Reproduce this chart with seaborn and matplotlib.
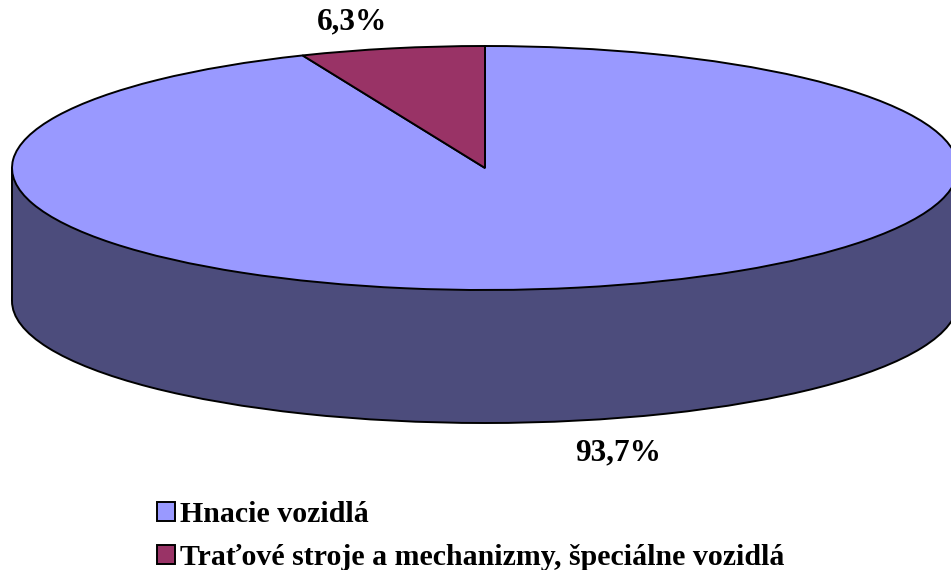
import numpy as np
import seaborn as sns
import matplotlib
matplotlib.use("Agg")
import matplotlib.pyplot as plt

# data
categories = ["Hnacie vozidlá", "Traťové stroje a mechanizmy, špeciálne vozidlá"]
shares = [93.7, 6.3]
top_colors = ["#9999FF", "#993366"]
side_colors = ["#4C4C7C", "#4D1A33"]

sns.set_theme(style="white")
plt.rcParams['font.family'] = ['Liberation Serif', 'DejaVu Serif']
plt.rcParams['font.weight'] = 'bold'
plt.rcParams['text.color'] = 'black'

W, H = 951, 570
fig = plt.figure(figsize=(W / 100, H / 100), dpi=100)
ax = fig.add_axes([0, 0, 1, 1])

# ellipse geometry in pixels
cx, cy, rx, ry, depth = 485, 168, 473, 122, 133
d = depth / ry
edge = dict(edgecolor="black", linewidth=1.4)

# bottom of the cylinder (fill, then a single outline without radial lines)
ax.pie(shares, colors=side_colors, startangle=90, counterclock=False,
       center=(0, -d), radius=1, wedgeprops=dict(edgecolor="none"))
ax.pie([1], colors=["none"], center=(0, -d), radius=1, wedgeprops=edge)
# side wall
ax.fill_between([-1, 1], -d, 0, color=side_colors[0], lw=0)
ax.vlines([-1, 1], -d, 0, color="black", lw=1.4)
# top face
wedges, _ = ax.pie(shares, colors=top_colors, startangle=90, counterclock=False,
                   center=(0, 0), radius=1, wedgeprops=edge)

ax.set_aspect("auto")
ax.set_xlim(-cx / rx, (W - cx) / rx)
ax.set_ylim((cy - H) / ry, cy / ry)
ax.axis("off")

# percentage labels
total = sum(shares)
start = 90.0
for v in shares:
    span = 360 * v / total
    mid = np.deg2rad(start - span / 2)
    start -= span
    lx = 1.43 * np.cos(mid)
    ly = 1.22 * np.sin(mid)
    if ly < 0:
        ly -= d + 0.05
    ax.text(lx, ly, f"{v:.1f}%".replace(".", ","), ha="center", va="center",
            fontsize=22.5, fontweight="bold", color="black")

fig.legend(wedges, categories, loc="upper left", bbox_to_anchor=(157 / W, 1 - 501 / H),
           frameon=False, prop=dict(size=21.5, weight="bold"), labelcolor="black",
           handlelength=0.6, handleheight=0.63, handletextpad=0.17, labelspacing=0.53,
           borderpad=0, borderaxespad=0)

fig.savefig("out.png", dpi=100, facecolor="white")
